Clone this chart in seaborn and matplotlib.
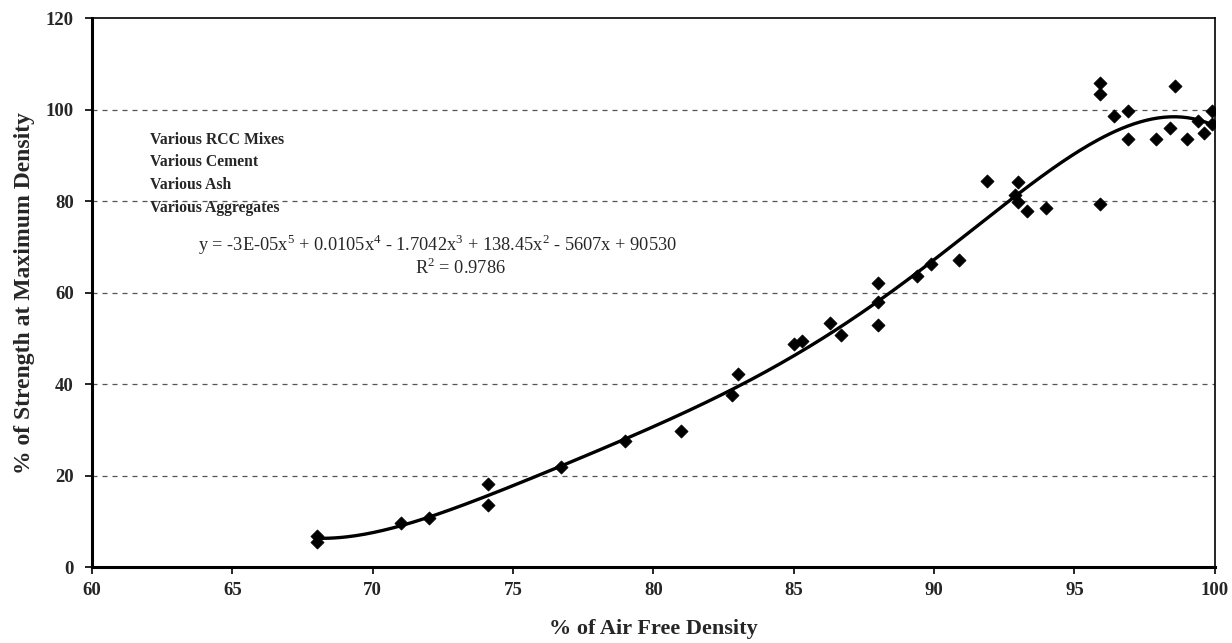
import numpy as np
import pandas as pd
import matplotlib.pyplot as plt
import seaborn as sns

# ── Data ────────────────────────────────────────────────────
air_free_density = [68.0, 68.0, 71.0, 72.0, 74.1, 74.1, 76.7, 79.0, 81.0, 82.8,
                    83.0, 85.0, 85.3, 86.3, 86.7, 88.0, 88.0, 88.0, 89.4, 89.9,
                    90.9, 91.9, 92.9, 93.0, 93.0, 93.3, 94.0, 95.9, 95.9, 95.9,
                    96.4, 96.9, 96.9, 97.9, 98.4, 98.6, 99.0, 99.4, 99.6, 99.9,
                    99.9]
strength_pct = [6.7, 5.6, 9.7, 10.8, 18.2, 13.6, 21.9, 27.6, 29.7, 37.6,
                42.1, 48.8, 49.5, 53.3, 50.7, 62.1, 58.0, 53.0, 63.6, 66.2,
                67.1, 84.3, 81.4, 84.2, 79.8, 77.9, 78.5, 105.7, 103.5, 79.4,
                98.6, 99.6, 93.6, 93.6, 95.9, 105.1, 93.5, 97.5, 94.9, 99.7,
                96.9]
y_ticks = [0, 20, 40, 60, 80, 100, 120]
x_ticks = [60, 65, 70, 75, 80, 85, 90, 95, 100]
notes = ["Various RCC Mixes", "Various Cement", "Various Ash", "Various Aggregates"]
equation = "y = -3E-05x$^5$ + 0.0105x$^4$ - 1.7042x$^3$ + 138.45x$^2$ - 5607x + 90530"
r_squared = "R$^2$ = 0.9786"

df = pd.DataFrame({"density": air_free_density, "strength": strength_pct})

# 5th order polynomial trendline from the points (centred for stability)
xc = df["density"].mean()
coef = np.polyfit(df["density"] - xc, df["strength"], 5)
fit = pd.DataFrame({"density": np.linspace(df["density"].min(), df["density"].max(), 300)})
fit["strength"] = np.polyval(coef, fit["density"] - xc)

# ── Style ──────────────────────────────────────────────────
sns.set_theme(style="white")
plt.rcParams["font.family"] = ["Liberation Serif", "DejaVu Serif"]
plt.rcParams["mathtext.fontset"] = "custom"
plt.rcParams["mathtext.rm"] = "Liberation Serif"

fig = plt.figure(figsize=(12.32, 6.43), dpi=100)
ax = fig.add_axes([0.0747, 0.118, 0.9113, 0.854])

for y in [20, 40, 60, 80, 100]:
    ax.axhline(y, color="#555555", lw=0.9, ls=(0, (4, 4)), zorder=0)

sns.lineplot(data=fit, x="density", y="strength", color="black", lw=2.4, ax=ax, zorder=2)
sns.scatterplot(data=df, x="density", y="strength", marker="D", s=45, color="black",
                edgecolor="black", linewidth=0.5, ax=ax, zorder=3)

ax.set_xlim(60, 100)
ax.set_ylim(0, 120)
ax.set_xticks(x_ticks)
ax.set_yticks(y_ticks)
ax.tick_params(axis="both", which="major", direction="out", length=5, width=1.2,
               color="black", labelsize=13.5, bottom=True, left=True)
for lab in ax.get_xticklabels() + ax.get_yticklabels():
    lab.set_fontweight("bold")
ax.tick_params(axis="x", pad=6)
ax.tick_params(axis="y", pad=8)

for side in ["left", "bottom"]:
    ax.spines[side].set_linewidth(2.2)
    ax.spines[side].set_color("black")
for side in ["top", "right"]:
    ax.spines[side].set_linewidth(1.2)
    ax.spines[side].set_color("black")

ax.set_xlabel("% of Air Free Density", fontsize=16, fontweight="bold", labelpad=14)
ax.set_ylabel("% of Strength at Maximum Density", fontsize=17, fontweight="bold", labelpad=8)

for i, line in enumerate(notes):
    ax.text(62.05, 93.4 - i * 4.95, line, fontsize=11.3, fontweight="bold", va="center")
ax.text(72.32, 70.4, equation, fontsize=13.2, ha="center", va="center")
ax.text(73.14, 65.4, r_squared, fontsize=13.2, ha="center", va="center")

plt.savefig("out.png", dpi=100)
plt.close()
